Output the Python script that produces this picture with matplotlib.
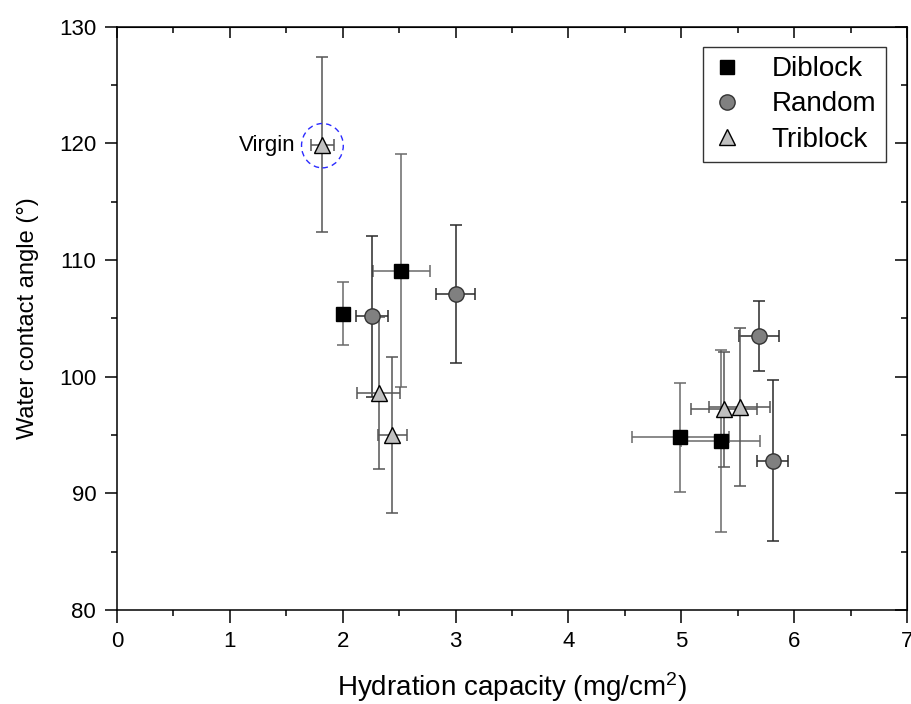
import matplotlib
matplotlib.use("Agg")
import matplotlib.pyplot as plt
from matplotlib.patches import Ellipse
from matplotlib.ticker import MultipleLocator

plt.rcParams["font.family"] = ["Liberation Sans", "DejaVu Sans"]
plt.rcParams["mathtext.default"] = "regular"

# Hydration capacity (mg/cm2) vs water contact angle (deg), with errors
diblock_x = [2.00, 2.52, 4.99, 5.35]
diblock_y = [105.4, 109.1, 94.8, 94.5]
diblock_xerr = [0.05, 0.25, 0.43, 0.35]
diblock_yerr = [2.7, 10.0, 4.7, 7.8]

random_x = [2.26, 3.00, 5.69, 5.81]
random_y = [105.2, 107.1, 103.5, 92.8]
random_xerr = [0.14, 0.17, 0.18, 0.14]
random_yerr = [6.9, 5.9, 3.0, 6.9]

# first point is the virgin membrane
triblock_x = [1.82, 2.32, 2.44, 5.38, 5.52]
triblock_y = [119.9, 98.6, 95.0, 97.2, 97.4]
triblock_xerr = [0.10, 0.19, 0.13, 0.29, 0.27]
triblock_yerr = [7.5, 6.5, 6.7, 4.9, 6.8]

virgin_x = 1.82
virgin_y = 119.8

fig = plt.figure(figsize=(9.12, 7.04), dpi=100)
ax = fig.add_axes([0.1283, 0.1335, 0.8662, 0.8286])

err_kw = dict(fmt="none", elinewidth=1.1, capsize=4.5, capthick=1.1, zorder=2)
ax.errorbar(diblock_x, diblock_y, xerr=diblock_xerr, yerr=diblock_yerr,
            ecolor="#6a6a6a", **err_kw)
ax.errorbar(random_x, random_y, xerr=random_xerr, yerr=random_yerr,
            ecolor="#2a2a2a", **err_kw)
ax.errorbar(triblock_x, triblock_y, xerr=triblock_xerr, yerr=triblock_yerr,
            ecolor="#555555", **err_kw)

ax.plot(diblock_x, diblock_y, "s", ms=10, mfc="black", mec="black",
        mew=1, label="Diblock", zorder=3)
ax.plot(random_x, random_y, "o", ms=11, mfc="#808080", mec="#333333",
        mew=1, label="Random", zorder=3)
ax.plot(triblock_x, triblock_y, "^", ms=12, mfc="#c0c0c0", mec="black",
        mew=1, label="Triblock", zorder=4)

# dashed circle around the virgin point
ax.add_patch(Ellipse((virgin_x, virgin_y), 0.37, 3.8, fill=False,
                     edgecolor="#2b2bff", linestyle=(0, (4, 3)), lw=1.0, zorder=5))
ax.text(virgin_x - 0.24, virgin_y, "Virgin", fontsize=16, ha="right", va="center")

ax.set_xlim(0, 7)
ax.set_ylim(80, 130)
ax.xaxis.set_major_locator(MultipleLocator(1))
ax.xaxis.set_minor_locator(MultipleLocator(0.5))
ax.yaxis.set_major_locator(MultipleLocator(10))
ax.yaxis.set_minor_locator(MultipleLocator(5))
ax.tick_params(which="major", direction="out", length=9, width=1.1,
               labelsize=16, pad=6)
ax.tick_params(which="minor", direction="out", length=4, width=1.1)

# inward ticks on top and right
top = ax.secondary_xaxis("top")
top.xaxis.set_major_locator(MultipleLocator(1))
top.xaxis.set_minor_locator(MultipleLocator(0.5))
top.tick_params(which="major", direction="in", length=8, width=1.1, labeltop=False)
top.tick_params(which="minor", direction="in", length=4, width=1.1)
right = ax.secondary_yaxis("right")
right.yaxis.set_major_locator(MultipleLocator(10))
right.yaxis.set_minor_locator(MultipleLocator(5))
right.tick_params(which="major", direction="in", length=9, width=1.1, labelright=False)
right.tick_params(which="minor", direction="in", length=4, width=1.1)

for sp in ax.spines.values():
    sp.set_linewidth(1.1)

ax.set_xlabel("Hydration capacity (mg/cm$^2$)", fontsize=20, labelpad=13)
ax.set_ylabel("Water contact angle (°)", fontsize=17, labelpad=14)

leg = ax.legend(loc="upper right", bbox_to_anchor=(0.973, 0.966), fontsize=20,
                frameon=True, fancybox=False, framealpha=1, edgecolor="#333333",
                handlelength=1.0, handletextpad=1.1, labelspacing=0.33,
                borderpad=0.35, borderaxespad=0)
leg.get_frame().set_linewidth(1.0)

fig.savefig("out.png", dpi=100)
